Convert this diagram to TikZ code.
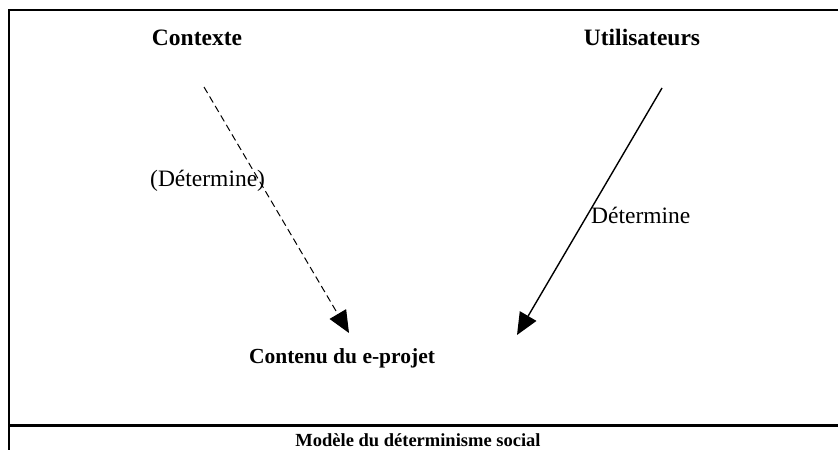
\documentclass[tikz,border=0pt]{standalone}
\usepackage{fontspec}
\setmainfont{Liberation Serif}
\usetikzlibrary{arrows.meta}

\begin{document}
\begin{tikzpicture}[x=1pt,y=-1pt,>=Triangle,
  title/.style={font=\fontsize{23.5}{28}\selectfont\bfseries,inner sep=0pt,anchor=base},
  lbl/.style={font=\fontsize{23.5}{28}\selectfont,inner sep=0pt,anchor=base west},
  link/.style={-{Triangle[length=22pt,width=19pt]},line width=1pt}]
\useasboundingbox (0,0) rectangle (838,450);
% frame
\draw[line width=2.6pt] (838,10)--(9,10)--(9,450);
\draw[line width=2.6pt] (9,425.5)--(838,425.5);
\node[title] (ctx) at (197,45) {Contexte};
\node[title] (usr) at (642,45) {Utilisateurs};
\node[title,font=\fontsize{21.5}{26}\selectfont\bfseries] (cont) at (342,363) {Contenu du e-projet};
\node[title,font=\fontsize{18.5}{22}\selectfont\bfseries] (cap) at (418,446) {Modèle du déterminisme social};
\coordinate (ctx-out) at (204,87);
\coordinate (usr-out) at (662,88);
\coordinate (cont-l) at (349,333);
\coordinate (cont-r) at (517,335);
\draw[link,dash pattern=on 7pt off 4pt] (ctx-out)--(cont-l);
\draw[link,line width=1.4pt] (usr-out)--(cont-r);
\node[lbl] (det1) at (150,186) {(Détermine)};
\node[lbl] (det2) at (591,223) {Détermine};
\end{tikzpicture}
\end{document}
